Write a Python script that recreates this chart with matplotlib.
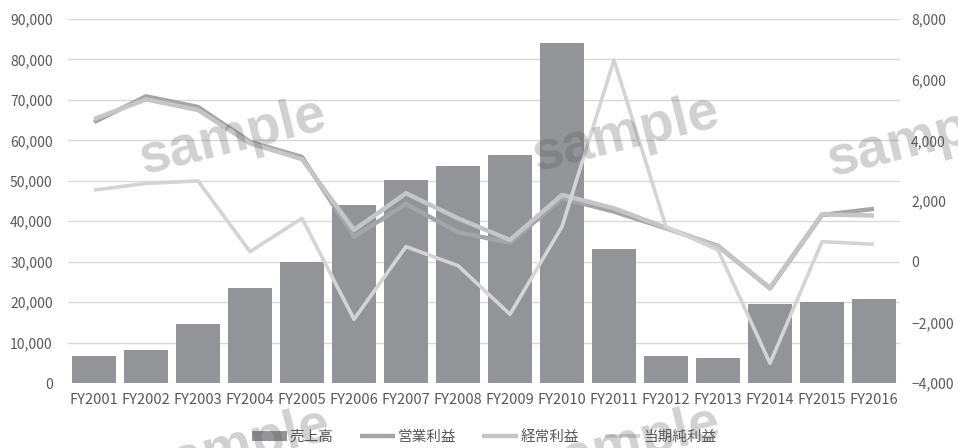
import matplotlib
matplotlib.use("Agg")
import matplotlib.pyplot as plt
from matplotlib.ticker import FuncFormatter
import numpy as np

plt.rcParams['font.family'] = ['Noto Sans CJK JP', 'DejaVu Sans']

years = ['FY2001', 'FY2002', 'FY2003', 'FY2004', 'FY2005', 'FY2006', 'FY2007', 'FY2008',
         'FY2009', 'FY2010', 'FY2011', 'FY2012', 'FY2013', 'FY2014', 'FY2015', 'FY2016']
sales = [6700, 8200, 14700, 23500, 30000, 44000, 50100, 53700,
         56400, 84000, 33200, 6700, 6200, 19500, 20000, 20700]
operating = [4600, 5450, 5100, 3950, 3450, 825, 1900, 970,
             625, 2090, 1650, 1100, 520, -880, 1540, 1740]
ordinary = [4700, 5350, 5000, 3900, 3380, 1045, 2255, 1430,
            715, 2200, 1760, 1120, 495, -860, 1560, 1520]
net = [2360, 2580, 2660, 330, 1430, -1900, 495, -130,
       -1735, 1155, 6650, 1150, 385, -3350, 660, 575]
labels = ['売上高', '営業利益', '経常利益', '当期純利益']

text_col = '#595959'
x = np.arange(len(years))

fig = plt.figure(figsize=(9.58, 4.48), dpi=100)
ax = fig.add_axes([68 / 958, 65 / 448, 832 / 958, 364 / 448])
ax2 = ax.twinx()

bars = ax.bar(x, sales, width=0.83, color='#939497', zorder=2, label=labels[0])
ax.set_xlim(-0.5, len(years) - 0.5)
ax.set_ylim(0, 90000)
ax.set_yticks(np.arange(0, 90001, 10000))
ax.yaxis.set_major_formatter(FuncFormatter(lambda v, p: f'{int(v):,}'))
ax.grid(axis='y', color='#d9d9d9', linewidth=1, zorder=0)
ax.set_axisbelow(True)
ax.set_xticks(x)
ax.set_xticklabels(years)
ax.tick_params(axis='x', length=0, pad=7, labelsize=10.5, colors=text_col)
ax.tick_params(axis='y', length=0, pad=11, labelsize=10, colors=text_col)
for s in ax.spines.values():
    s.set_visible(False)

l1, = ax2.plot(x, operating, color='#a4a5a9', linewidth=3.2, solid_capstyle='butt', label=labels[1], zorder=3)
l2, = ax2.plot(x, ordinary, color='#c4c5c8', linewidth=3.2, solid_capstyle='butt', label=labels[2], zorder=3)
l3, = ax2.plot(x, net, color='#d4d4d6', linewidth=2.6, solid_capstyle='butt', label=labels[3], zorder=4)
ax2.set_ylim(-4000, 8000)
ax2.set_yticks(np.arange(-4000, 8001, 2000))
ax2.yaxis.set_major_formatter(FuncFormatter(lambda v, p: f'{int(v):,}'.replace('-', '\u2212')))
ax2.tick_params(axis='y', length=0, pad=8, labelsize=10, colors=text_col)
for s in ax2.spines.values():
    s.set_visible(False)

leg = fig.legend([bars, l1, l2, l3], labels, loc='center', bbox_to_anchor=(484 / 958, 11 / 448),
                 ncol=4, frameon=False, fontsize=10.5, handlelength=2.4, handletextpad=0.2,
                 columnspacing=1.8, labelcolor=text_col)

# watermark
for wx, wy in [(232, 138), (625, 135), (920, 140), (236, 448), (626, 446), (1000, 462)]:
    fig.text(wx / 958, 1 - wy / 448, 'sample', family='Liberation Sans', fontweight='bold',
             fontsize=40, color='#555555', alpha=0.27, rotation=14,
             ha='center', va='center', zorder=10)

fig.savefig('out.png', dpi=100)
